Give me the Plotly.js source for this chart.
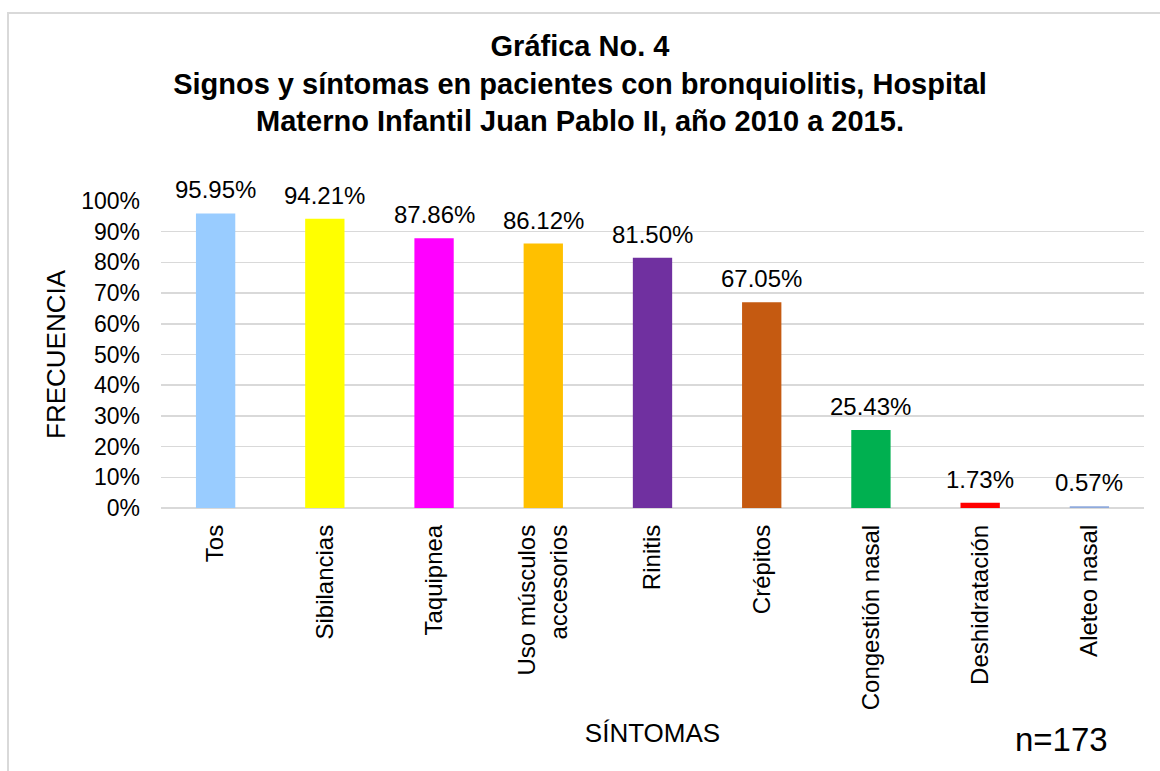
<!DOCTYPE html>
<html>
<head>
<meta charset="utf-8">
<script src="https://cdn.plot.ly/plotly-3.0.1.min.js"></script>
<style>
  html, body { margin: 0; padding: 0; background: #fff; overflow: hidden; }
  #frame { position: absolute; left: 7px; top: 12px; width: 1200px; height: 800px; border: 2px solid #d9d9d9; box-sizing: border-box; }
  #chart { position: absolute; left: 0; top: 0; width: 1160px; height: 771px; }
</style>
</head>
<body>
<div id="frame"></div>
<div id="chart"></div>
<script>
const categories = ["Tos", "Sibilancias", "Taquipnea", "Uso músculos<br>accesorios", "Rinitis", "Crépitos", "Congestión nasal", "Deshidratación", "Aleteo nasal"];
const values = [0.9595, 0.9421, 0.8786, 0.8612, 0.8150, 0.6705, 0.2543, 0.0173, 0.0057];
const labels = ["95.95%", "94.21%", "87.86%", "86.12%", "81.50%", "67.05%", "25.43%", "1.73%", "0.57%"];
const colors = ["#99ccff", "#ffff00", "#ff00ff", "#ffc000", "#7030a0", "#c55a11", "#00b050", "#ff0000", "#8faadc"];
const yTickVals = [0, 0.1, 0.2, 0.3, 0.4, 0.5, 0.6, 0.7, 0.8, 0.9, 1.0];
const yTickText = ["0%", "10%", "20%", "30%", "40%", "50%", "60%", "70%", "80%", "90%", "100%"];

const FONT = "Liberation Sans, Arial, sans-serif";

const trace = {
  type: "bar",
  x: categories,
  y: values,
  marker: { color: colors },
  hoverinfo: "x+y"
};

const annotations = categories.map((c, i) => ({
  x: c, y: values[i], xref: "x", yref: "y",
  text: labels[i], showarrow: false, yanchor: "bottom", yshift: 8,
  font: { family: FONT, size: 24, color: "#000" }
}));
annotations.push({
  xref: "paper", yref: "paper", x: 0.916, y: -0.755, xanchor: "center", yanchor: "middle",
  text: "n=173", showarrow: false, font: { family: FONT, size: 33, color: "#000" }
});

const layout = {
  width: 1160, height: 771,
  paper_bgcolor: "rgba(0,0,0,0)",
  plot_bgcolor: "rgba(0,0,0,0)",
  margin: { l: 161, r: 16, t: 200.5, b: 262.5 },
  showlegend: false,
  bargap: 0.64,
  title: {
    text: "<b>Gráfica No. 4<br>Signos y síntomas en pacientes con bronquiolitis, Hospital<br>Materno Infantil Juan Pablo II, año 2010 a 2015.</b>",
    x: 0.5, xref: "container", xanchor: "center",
    y: 1 - 56 / 771, yref: "container", yanchor: "top",
    font: { family: FONT, size: 29, color: "#000" }
  },
  xaxis: {
    tickangle: -90,
    tickfont: { family: FONT, size: 24, color: "#000" },
    ticklabelstandoff: 11,
    showline: false, showgrid: false,
    title: { text: "SÍNTOMAS", font: { family: FONT, size: 26, color: "#000" }, standoff: 14 },
    automargin: false
  },
  yaxis: {
    range: [0, 1.0],
    tickvals: yTickVals, ticktext: yTickText,
    tickfont: { family: FONT, size: 23, color: "#000" },
    ticklabelstandoff: 20,
    showgrid: true, gridcolor: "#d9d9d9", gridwidth: 1.5,
    zeroline: true, zerolinecolor: "#d9d9d9", zerolinewidth: 1.5,
    showline: false,
    title: { text: "FRECUENCIA", font: { family: FONT, size: 26, color: "#000" }, standoff: 8 },
    automargin: false
  },
  annotations: annotations
};

Plotly.newPlot("chart", [trace], layout, { displayModeBar: false, staticPlot: true });
</script>
</body>
</html>
